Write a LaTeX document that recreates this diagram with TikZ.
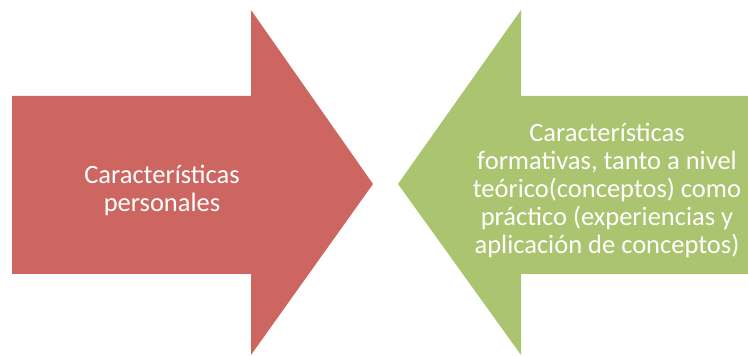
\documentclass[tikz,border=0pt]{standalone}
\usepackage{fontspec}
\setmainfont{Carlito}
\definecolor{arrowred}{RGB}{205,102,96}
\definecolor{arrowgreen}{RGB}{171,196,111}
\begin{document}
\begin{tikzpicture}[x=1pt,y=1pt,
    label/.style={text=white,align=center,font=\fontsize{26.5}{28}\selectfont}]
        \useasboundingbox (0,0) rectangle (748,356);
        \clip (0,0) rectangle (748,356);

        \fill[arrowred] (12,82) -- (12,260) -- (251,260) -- (251,346)
            -- (373,172) -- (251,1) -- (251,82) -- cycle;
        \fill[arrowgreen] (398,172) -- (521,346) -- (521,260) -- (760,260)
            -- (760,82) -- (521,82) -- (521,1) -- cycle;

        \node[label] (personal) at (162,166) {Características\\personales};
        \node[label] (formative) at (607,166) {Características\\formativas, tanto a nivel\\teórico(conceptos) como\\práctico (experiencias y\\aplicación de conceptos)};
    \end{tikzpicture}
\end{document}
